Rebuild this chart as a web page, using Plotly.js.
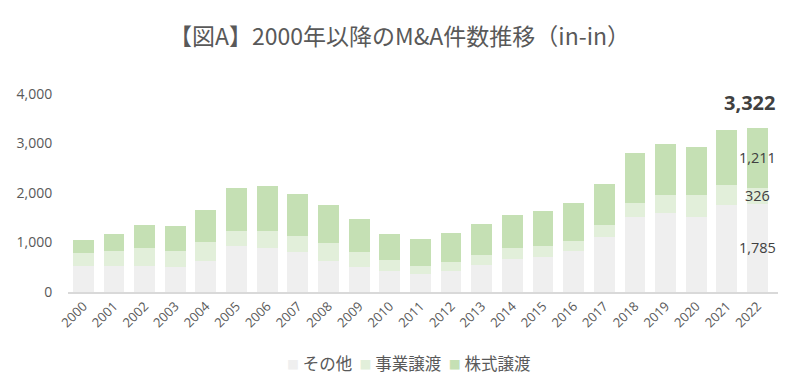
<!DOCTYPE html>
<html>
<head>
<meta charset="utf-8">
<script src="https://cdn.plot.ly/plotly-3.0.1.min.js"></script>
<style>html,body{margin:0;padding:0;background:#fff;}#chart{width:799px;height:390px;}</style>
</head>
<body>
<div id="chart"></div>
<script>
const years = ["2000","2001","2002","2003","2004","2005","2006","2007","2008","2009","2010","2011","2012","2013","2014","2015","2016","2017","2018","2019","2020","2021","2022"];
const other    = [520,520,520,500,630,920,885,800,630,515,415,360,415,550,660,715,830,1120,1515,1595,1515,1755,1785];
const business = [260,310,365,330,375,315,350,340,355,300,240,170,190,200,225,205,205,225,280,360,440,400,326];
const stock    = [275,340,460,495,660,870,905,840,780,660,515,535,595,625,665,725,765,830,1010,1035,980,1125,1211];
const seriesNames = ["その他","事業譲渡","株式譲渡"];
const yTicks = [0,1000,2000,3000,4000];
const yTickText = ["0","1,000","2,000","3,000","4,000"];

const colors = ["#efefef","#e2efda","#c5e0b4"];
const font = "'Noto Sans CJK JP', 'Noto Sans', sans-serif";
const numFont = "'Open Sans', 'Noto Sans', sans-serif";

const series = [other, business, stock];
const traces = series.map((s,i)=>({
  type:'bar', x:years, y:s, name:seriesNames[i],
  marker:{color:colors[i], line:{width:0}},
  hoverinfo:'skip', showlegend:false
}));

const last = years.length-1;
const fmt = v => v.toLocaleString('en-US');
const oL = other[last], bL = business[last], sL = stock[last];
const total = oL+bL+sL;
const lf = {family:numFont,size:14.5,color:'#404040'};

const legendText = seriesNames.map((n,i)=>
  '<span style="color:'+colors[i]+';font-size:12px">■</span>&nbsp;'+n).join('&nbsp;&nbsp;');

const annotations = [
  {x:last, y:oL/2, text:fmt(oL), showarrow:false, font:lf},
  {x:last, y:oL+bL/2, text:fmt(bL), showarrow:false, font:lf},
  {x:last, y:oL+bL+sL/2, text:fmt(sL), showarrow:false, font:lf},
  {x:last, y:total, yshift:25, xshift:-8, text:'<b>'+fmt(total)+'</b>', showarrow:false, font:{family:numFont,size:20,color:'#404040'}},
  {xref:'paper', yref:'paper', x:(408-68)/710, y:-(363-292)/198, xanchor:'center', yanchor:'middle',
   text:legendText, showarrow:false, font:{family:font, size:16.5, color:'#595959'}}
];

const layout = {
  width:799, height:390,
  margin:{l:68, r:21, t:94, b:98, autoexpand:false},
  paper_bgcolor:'#fff', plot_bgcolor:'#fff',
  barmode:'stack', bargap:0.32,
  title:{text:'【図A】2000年以降のM&A件数推移（in-in）', x:0.5, xanchor:'center', y:0.905, yanchor:'middle', yref:'container',
         font:{family:font, size:23, color:'#595959'}},
  xaxis:{type:'category', tickangle:-45, showline:true, linecolor:'#d9d9d9', linewidth:1.5, ticks:'',
         tickfont:{family:numFont, size:13, color:'#595959'}, showgrid:false, fixedrange:true, automargin:false},
  yaxis:{range:[0,4000], tickvals:yTicks, ticktext:yTickText, showgrid:false, zeroline:false, showline:false,
         tickfont:{family:numFont, size:14, color:'#595959'}, ticks:'outside', ticklen:12, tickcolor:'rgba(0,0,0,0)',
         fixedrange:true, automargin:false},
  showlegend:false,
  annotations:annotations
};
Plotly.newPlot('chart', traces, layout, {staticPlot:true, displayModeBar:false});
</script>
</body>
</html>
